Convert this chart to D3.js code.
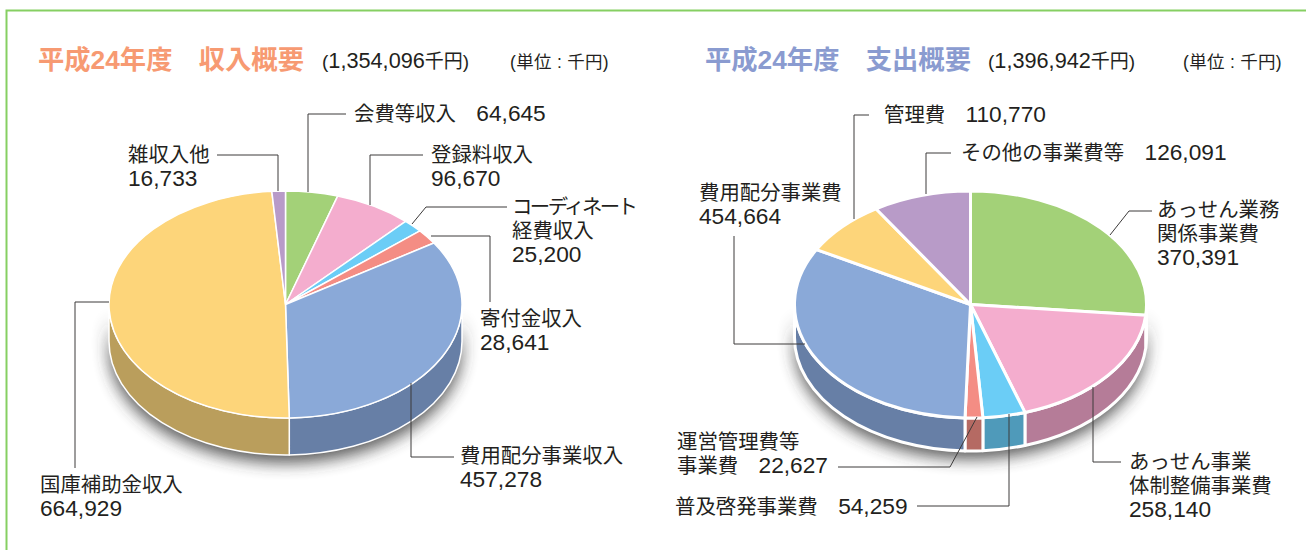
<!DOCTYPE html>
<html lang="ja"><head><meta charset="utf-8">
<script src="https://cdnjs.cloudflare.com/ajax/libs/d3/7.8.5/d3.min.js"></script>
<style>
html,body{margin:0;padding:0;background:#fff}
svg{display:block}
text{font-family:"Liberation Sans","Noto Sans CJK JP",sans-serif;fill:#231f20}
</style></head><body><script>
// ---- data ----
const incomeNames = ["会費等収入","登録料収入","コーディネート経費収入","寄付金収入","費用配分事業収入","国庫補助金収入","雑収入他"];
const incomeValues = [64645,96670,25200,28641,457278,664929,16733];
const expenseNames = ["あっせん業務関係事業費","あっせん事業体制整備事業費","普及啓発事業費","運営管理費等事業費","費用配分事業費","管理費","その他の事業費等"];
const expenseValues = [370391,258140,54259,22627,454664,110770,126091];
const incomeTitle = "平成24年度　収入概要";
const expenseTitle = "平成24年度　支出概要";
const incomeTotal = "(1,354,096千円)";
const expenseTotal = "(1,396,942千円)";
const unitLabel = "(単位 : 千円)";

// ---- styles & layout ----
const incomeTop = ["#a3d178","#f4adce","#6bcdf6","#f48d84","#8aa9d8","#fdd57a","#b89bc8"];
const incomeSide = ["#7d9f5c","#b57c98","#4f9aba","#b56a63","#677fa6","#ba9e5c","#8a7496"];
const expenseTop = ["#a3d178","#f4adce","#6bcdf6","#f48d84","#8aa9d8","#fdd57a","#b89bc8"];
const expenseSide = ["#7d9f5c","#b57c98","#4f9aba","#b56a63","#677fa6","#ba9e5c","#8a7496"];

const incomeLabels = [
 {x:354,y:121,lines:["会費等収入　64,645"]},
 {x:128,y:162,lines:["雑収入他","16,733"]},
 {x:431,y:162,lines:["登録料収入","96,670"]},
 {x:512,y:214,lines:["コーディネート","経費収入","25,200"],fit:{0:126}},
 {x:480,y:326,lines:["寄付金収入","28,641"]},
 {x:460,y:463,lines:["費用配分事業収入","457,278"]},
 {x:40,y:492,lines:["国庫補助金収入","664,929"]}
];
const expenseLabels = [
 {x:884,y:122,lines:["管理費　110,770"]},
 {x:961,y:160,lines:["その他の事業費等　126,091"]},
 {x:699,y:200,lines:["費用配分事業費","454,664"]},
 {x:1157,y:217,lines:["あっせん業務","関係事業費","370,391"]},
 {x:1129,y:469,lines:["あっせん事業","体制整備事業費","258,140"]},
 {x:677,y:449,lines:["運営管理費等","事業費　22,627"]},
 {x:675,y:514,lines:["普及啓発事業費　54,259"]}
];
const incomeLeaders = [
 [[346,114],[308,114],[308,192]],
 [[217,155],[278,155],[278,191]],
 [[423,155],[370,155],[370,205]],
 [[507,207],[426,207],[412,224]],
 [[431,236],[490,236],[490,302]],
 [[411,383],[411,457],[454,457]],
 [[109,302],[75,302],[75,468]]
];
const expenseLeaders = [
 [[869,115],[854,115],[854,219]],
 [[951,153],[926,153],[926,194]],
 [[734,236],[734,344],[805,344]],
 [[1152,211],[1129,211],[1110,235]],
 [[1093,387],[1093,462],[1121,462]],
 [[838,467],[950,467],[977,417]],
 [[917,506],[1009,506],[1009,414]]
];

const W = 1306, H = 550;
const svg = d3.select("body").append("svg").attr("width",W).attr("height",H);
const defs = svg.append("defs");
defs.append("filter").attr("id","soft").attr("x","-20%").attr("y","-20%").attr("width","140%").attr("height","140%")
  .append("feGaussianBlur").attr("stdDeviation",8);

// frame
svg.append("path").attr("d",d3.line()([[6.5,H],[6.5,10.5],[W,10.5]]))
  .attr("fill","none").attr("stroke","#86cf62").attr("stroke-width",2);

function pie3d(o){
  const g = svg.append("g");
  const px = (a,d=0)=>[o.cx+o.rx*Math.sin(a), o.cy-o.ry*Math.cos(a)+d];
  const slices = d3.pie().sort(null).value(d=>d)(o.values);
  const wall = (a0,a1)=>{
    const p0=px(a0),p1=px(a1),p2=px(a1,o.depth),p3=px(a0,o.depth);
    const large = (a1-a0)>Math.PI?1:0;
    return `M${p0}A${o.rx},${o.ry} 0 ${large} 1 ${p1}L${p2}A${o.rx},${o.ry} 0 ${large} 0 ${p3}Z`;
  };
  // shadow
  g.append("path").attr("d",wall(Math.PI/2,Math.PI*1.5))
    .attr("transform","translate(0,8)").attr("fill","#333").attr("opacity",0.8).attr("filter","url(#soft)");
  // side walls
  slices.forEach((s,i)=>{
    const a0=Math.max(s.startAngle,Math.PI/2), a1=Math.min(s.endAngle,Math.PI*1.5);
    if(a1<=a0) return;
    g.append("path").attr("d",wall(a0,a1)).attr("fill",o.side[i])
      .attr("stroke","#fff").attr("stroke-width",o.sw).attr("stroke-linejoin","round");
  });
  // top
  const arc = d3.arc().innerRadius(0).outerRadius(o.rx);
  g.append("g").attr("transform",`translate(${o.cx},${o.cy}) scale(1,${o.ry/o.rx})`)
   .selectAll("path").data(slices).join("path")
    .attr("d",arc).attr("fill",(d,i)=>o.top[i])
    .attr("stroke","#fff").attr("stroke-width",o.sw).attr("stroke-linejoin","round")
    .attr("vector-effect","non-scaling-stroke");
  // leaders
  g.selectAll("path.leader").data(o.leaders).join("path").attr("class","leader")
    .attr("d",d3.line()).attr("fill","none").attr("stroke","#3c3a3a").attr("stroke-width",1);
  // labels with larger digits
  o.labels.forEach(l=>{
    l.lines.forEach((t,k)=>{
      const tx = g.append("text").attr("x",l.x).attr("y",l.y+k*24.2).attr("font-size",20.4);
      runs(tx,t,22.7);
      if(l.fit && l.fit[k]) tx.attr("textLength",l.fit[k]).attr("lengthAdjust","spacing");
    });
  });
  // titles
  const t = g.append("text").attr("x",o.titleX).attr("y",69).attr("font-size",26.3).attr("font-weight","bold");
  t.text(o.title).style("fill",o.titleColor);
  const st = g.append("text").attr("x",o.totalX).attr("y",68).attr("font-size",19);
  runs(st,o.total,21.7);
  g.append("text").attr("x",o.unitX).attr("y",68).attr("font-size",17.5).attr("letter-spacing",0.3).text(unitLabel);
}
function runs(sel,str,numSize){
  str.split(/([0-9,.]+)/).filter(s=>s).forEach(s=>{
    const isNum=/^[0-9,.]+$/.test(s);
    const ts=sel.append("tspan").text(s);
    if(isNum) ts.attr("font-size",numSize);
  });
}

pie3d({cx:285.5,cy:304.5,rx:176.5,ry:113.5,depth:37,sw:1.5,values:incomeValues,top:incomeTop,side:incomeSide,
  leaders:incomeLeaders,labels:incomeLabels,title:incomeTitle,total:incomeTotal,titleColor:"#f79a72",titleX:38,totalX:322,unitX:510});
pie3d({cx:970.5,cy:304.5,rx:176,ry:113.5,depth:33,sw:3,values:expenseValues,top:expenseTop,side:expenseSide,
  leaders:expenseLeaders,labels:expenseLabels,title:expenseTitle,total:expenseTotal,titleColor:"#8a9bd0",titleX:705,totalX:988,unitX:1183});
</script></body></html>
